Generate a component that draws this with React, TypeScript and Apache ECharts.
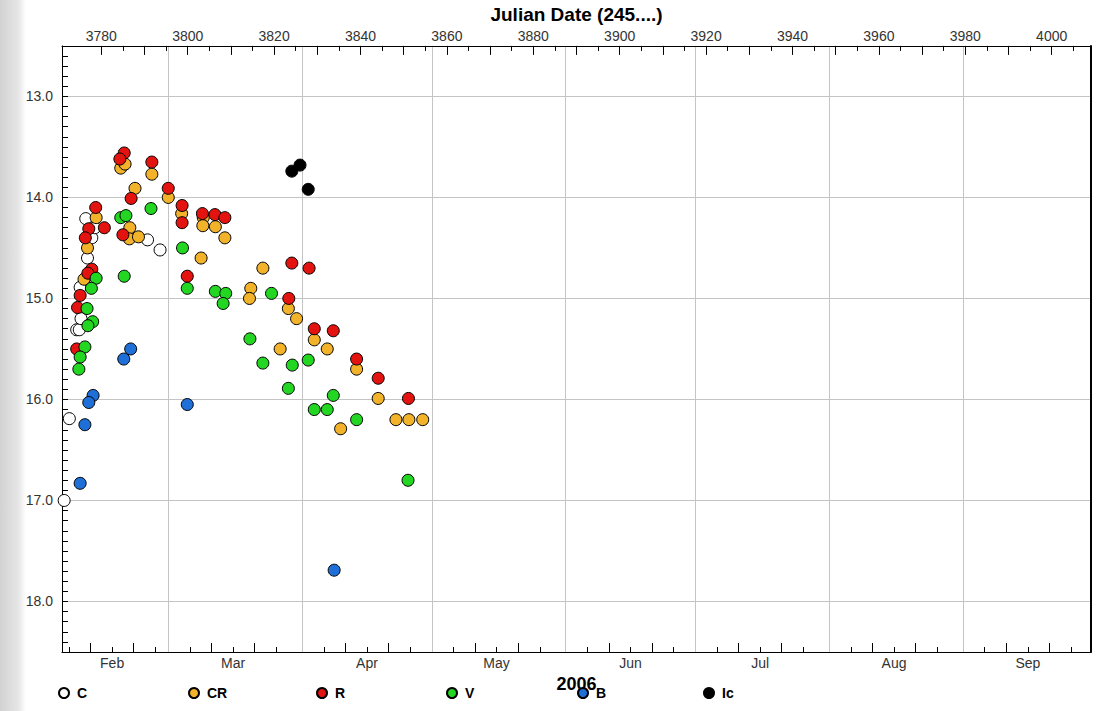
import React, { useEffect, useRef } from 'react';
import * as echarts from 'echarts';

const FONT = '"Liberation Sans", Arial, sans-serif';

const seriesNames = ['C', 'CR', 'R', 'V', 'B', 'Ic'];
const seriesColors = ['#ffffff', '#f2b32a', '#e3140f', '#22d622', '#1e70d8', '#000000'];

const dataC: [number, number][] = [
  [3771.4, 17.0], [3772.6, 16.19], [3774.3, 15.31], [3774.9, 15.31], [3775.3, 15.2],
  [3775.1, 14.89], [3776.8, 14.6], [3777.8, 14.4], [3778.5, 14.3], [3776.4, 14.21],
  [3790.7, 14.42], [3793.6, 14.52],
];

const dataCR: [number, number][] = [
  [3784.5, 13.71], [3785.5, 13.67], [3791.7, 13.77], [3787.8, 13.91], [3795.5, 14.0],
  [3778.8, 14.2], [3776.8, 14.5], [3776.0, 14.81], [3786.6, 14.3], [3786.5, 14.41],
  [3788.6, 14.39], [3798.6, 14.16], [3803.6, 14.2], [3803.5, 14.28], [3806.4, 14.29],
  [3808.6, 14.4], [3803.1, 14.6], [3817.4, 14.7], [3814.6, 14.9], [3814.3, 15.0],
  [3823.3, 15.1], [3825.2, 15.2], [3829.3, 15.41], [3821.4, 15.5], [3832.3, 15.5],
  [3839.1, 15.7], [3844.1, 15.99], [3835.4, 16.29], [3848.2, 16.2], [3851.2, 16.2],
  [3854.4, 16.2],
];

const dataR: [number, number][] = [
  [3785.3, 13.56], [3784.3, 13.62], [3791.7, 13.65], [3795.5, 13.91], [3786.9, 14.01],
  [3778.7, 14.1], [3780.7, 14.3], [3785.0, 14.37], [3777.1, 14.31], [3776.3, 14.4],
  [3777.8, 14.71], [3776.9, 14.75], [3775.1, 14.97], [3774.5, 15.09], [3774.3, 15.5],
  [3798.7, 14.08], [3798.7, 14.25], [3803.4, 14.16], [3806.3, 14.17], [3808.6, 14.2],
  [3799.9, 14.78], [3824.1, 14.65], [3828.1, 14.7], [3823.4, 15.0], [3829.3, 15.3],
  [3833.7, 15.32], [3839.1, 15.6], [3844.1, 15.79], [3851.1, 15.99],
];

const dataV: [number, number][] = [
  [3784.5, 14.2], [3785.7, 14.18], [3791.5, 14.11], [3785.3, 14.78], [3798.8, 14.5],
  [3799.9, 14.9], [3806.4, 14.93], [3808.8, 14.95], [3808.2, 15.05], [3778.8, 14.8],
  [3777.7, 14.9], [3776.7, 15.1], [3778.0, 15.23], [3776.9, 15.27], [3776.2, 15.48],
  [3775.1, 15.58], [3774.8, 15.7], [3814.4, 15.4], [3819.4, 14.95], [3817.4, 15.64],
  [3824.2, 15.66], [3827.9, 15.61], [3823.3, 15.89], [3833.7, 15.96], [3829.3, 16.1],
  [3832.3, 16.1], [3839.1, 16.2], [3851.0, 16.8],
];

const dataB: [number, number][] = [
  [3786.8, 15.5], [3785.2, 15.6], [3778.1, 15.96], [3777.1, 16.03], [3776.2, 16.25],
  [3775.1, 16.83], [3799.9, 16.05], [3833.9, 17.69],
];

const dataIc: [number, number][] = [
  [3824.1, 13.74], [3826.0, 13.68], [3827.9, 13.92],
];

const seriesData = [dataC, dataCR, dataR, dataV, dataB, dataIc];

// Axis ranges and tick labels
const X_MIN = 3770.9;
const X_MAX = 4009.1;
const Y_MIN = 12.5;
const Y_MAX = 18.5;
const topLabelValues = [3780, 3800, 3820, 3840, 3860, 3880, 3900, 3920, 3940, 3960, 3980, 4000];
const monthNames = ['Feb', 'Mar', 'Apr', 'May', 'Jun', 'Jul', 'Aug', 'Sep'];
const monthStartJD = [3767.5, 3795.5, 3826.5, 3856.5, 3887.5, 3917.5, 3948.5, 3979.5];
const magLabels = [13, 14, 15, 16, 17, 18];

const legendCenters = [63, 193, 321, 451, 582, 708];

export default function App() {
  const ref = useRef<HTMLDivElement>(null);

  useEffect(() => {
    if (!ref.current) return;
    const chart = echarts.init(ref.current, undefined, { renderer: 'svg' });

    const inRange = (v: number) => v > X_MIN && v < X_MAX;
    const topMajor: number[] = [];
    const topMinor: number[] = [];
    for (let v = 3780; v <= 4000; v += 10) topMajor.push(v);
    for (let v = 3785; v <= 4005; v += 10) topMinor.push(v);
    const monthGrid = monthStartJD.filter(inRange);
    const monthLabelPos = monthStartJD.map((s) => s + 15);
    const bottomShort: number[] = [];
    const bottomLong: number[] = [];
    monthStartJD.forEach((s) => {
      [5, 15, 25].forEach((d) => inRange(s + d) && bottomShort.push(s + d));
      [10, 20].forEach((d) => inRange(s + d) && bottomLong.push(s + d));
    });
    const magMinor: number[] = [];
    for (let i = 126; i <= 184; i++) if (i % 10 !== 0) magMinor.push(i / 10);

    const axisText = { fontFamily: FONT, fontSize: 14, color: '#333' };
    const blackLine = { lineStyle: { color: '#000', width: 1 } };

    const baseX = {
      type: 'value' as const,
      min: X_MIN,
      max: X_MAX,
      gridIndex: 0,
      splitLine: { show: false },
    };

    chart.setOption({
      animation: false,
      backgroundColor: '#ffffff',
      graphic: [
        {
          type: 'rect',
          shape: { x: 0, y: 0, width: 26, height: 711 },
          style: {
            fill: new echarts.graphic.LinearGradient(0, 0, 1, 0, [
              { offset: 0, color: '#d2d2d2' },
              { offset: 0.7, color: '#e6e6e6' },
              { offset: 1, color: '#ffffff' },
            ]),
          },
          silent: true,
          z: -10,
        },
      ],
      grid: { left: 62, right: 18, top: 45, bottom: 59, containLabel: false },
      xAxis: [
        {
          ...baseX,
          position: 'bottom',
          axisLine: { show: true, onZero: false, ...blackLine },
          axisTick: { show: true, inside: true, length: 1, customValues: monthGrid, lineStyle: { color: '#c4c4c4' } },
          axisLabel: {
            show: true,
            customValues: monthLabelPos,
            margin: 4,
            ...axisText,
            formatter: (v: number) => {
              const i = monthLabelPos.findIndex((p) => Math.abs(p - v) < 0.01);
              return i >= 0 ? monthNames[i] : '';
            },
          },
          splitLine: { show: true, lineStyle: { color: '#c4c4c4', width: 1 } },
          name: '2006',
          nameLocation: 'middle',
          nameGap: 18,
          nameTextStyle: { fontFamily: FONT, fontSize: 18, fontWeight: 'bold', color: '#000', verticalAlign: 'top' },
        },
        {
          ...baseX,
          position: 'top',
          axisLine: { show: true, onZero: false, ...blackLine },
          axisTick: { show: true, inside: true, length: 9, customValues: topMajor, ...blackLine },
          axisLabel: {
            show: true,
            customValues: topLabelValues,
            margin: 3,
            ...axisText,
            formatter: (v: number) => String(Math.round(v)),
          },
          name: 'Julian Date (245....)',
          nameLocation: 'middle',
          nameGap: 18,
          nameTextStyle: { fontFamily: FONT, fontSize: 19, fontWeight: 'bold', color: '#000', verticalAlign: 'bottom' },
        },
        {
          ...baseX,
          position: 'top',
          axisLine: { show: false, onZero: false },
          axisTick: { show: true, inside: true, length: 5, customValues: topMinor, ...blackLine },
          axisLabel: { show: false },
        },
        {
          ...baseX,
          position: 'bottom',
          axisLine: { show: false, onZero: false },
          axisTick: { show: true, inside: true, length: 5, customValues: bottomShort, ...blackLine },
          axisLabel: { show: false },
        },
        {
          ...baseX,
          position: 'bottom',
          axisLine: { show: false, onZero: false },
          axisTick: { show: true, inside: true, length: 9, customValues: bottomLong, ...blackLine },
          axisLabel: { show: false },
        },
      ],
      yAxis: [
        {
          type: 'value',
          inverse: true,
          min: Y_MIN,
          max: Y_MAX,
          position: 'left',
          axisLine: { show: true, onZero: false, ...blackLine },
          axisTick: { show: true, inside: true, length: 6, customValues: magLabels, ...blackLine },
          axisLabel: {
            show: true,
            customValues: magLabels,
            margin: 9,
            ...axisText,
            formatter: (v: number) => v.toFixed(1),
          },
          splitLine: { show: true, lineStyle: { color: '#c4c4c4', width: 1 } },
        },
        {
          type: 'value',
          inverse: true,
          min: Y_MIN,
          max: Y_MAX,
          position: 'left',
          axisLine: { show: false, onZero: false },
          axisTick: { show: true, inside: true, length: 6, customValues: magMinor, ...blackLine },
          axisLabel: { show: false },
          splitLine: { show: false },
        },
        {
          type: 'value',
          inverse: true,
          min: Y_MIN,
          max: Y_MAX,
          position: 'right',
          axisLine: { show: true, onZero: false, lineStyle: { color: '#000', width: 2 } },
          axisTick: { show: false },
          axisLabel: { show: false },
          splitLine: { show: false },
        },
      ],
      legend: seriesNames.map((name, i) => ({
        data: [name],
        left: legendCenters[i] - 5,
        top: 686,
        padding: 0,
        itemWidth: 16,
        itemHeight: 10,
        icon: 'circle',
        selectedMode: false,
        textStyle: { fontFamily: FONT, fontSize: 14, fontWeight: 'bold', color: '#000' },
      })),
      series: seriesNames.map((name, i) => ({
        name,
        type: 'scatter',
        xAxisIndex: 0,
        yAxisIndex: 0,
        symbol: 'circle',
        symbolSize: 12,
        data: seriesData[i],
        itemStyle: { color: seriesColors[i], borderColor: '#000', borderWidth: 1, opacity: 1 },
        emphasis: { disabled: true },
      })),
    });

    return () => chart.dispose();
  }, []);

  return (
    <div
      ref={ref}
      style={{ position: 'fixed', left: 0, top: 0, width: 1109, height: 711 }}
    />
  );
}
